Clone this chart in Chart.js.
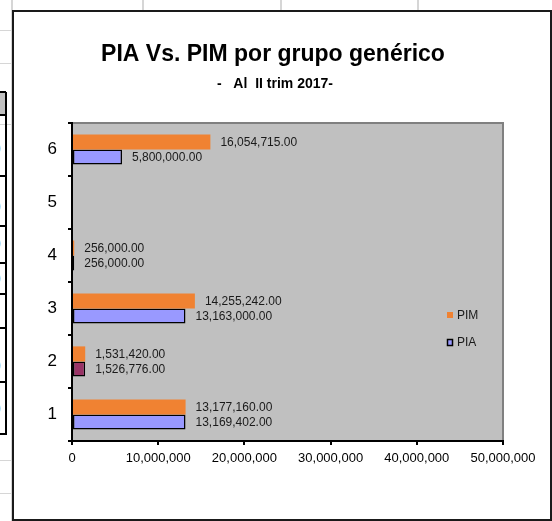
<!DOCTYPE html>
<html>
<head>
<meta charset="utf-8">
<script src="https://cdn.jsdelivr.net/npm/chart.js@4"></script>
<style>
  html, body { margin: 0; padding: 0; background: #fff; }
  body { width: 552px; height: 521px; position: relative; overflow: hidden; font-family: "Liberation Sans", Arial, sans-serif; }
  .gv { position: absolute; top: 0; width: 2px; height: 521px; background: #d6d6d6; }
  .gh { position: absolute; left: 0; height: 1px; width: 552px; background: #d6d6d6; }
  .bh { position: absolute; left: 0; width: 6px; height: 2px; background: #000; }
  .zero { position: absolute; left: -6px; font-size: 12px; color: #777; }
  #box { position: absolute; left: 12px; top: 10px; width: 536px; height: 507px; border: 2px solid #1a1a1a; background: #fff; }
  #c { position: absolute; left: 0; top: 0; }
</style>
</head>
<body>
<div class="gv" style="left:11px"></div>
<div class="gv" style="left:142px"></div>
<div class="gv" style="left:280px"></div>
<div class="gv" style="left:417px"></div>
<div class="gh" style="top:30px"></div>
<div class="gh" style="top:63px"></div>
<div class="gh" style="top:124px"></div>
<div class="gh" style="top:460px"></div>
<div class="gh" style="top:493px"></div>
<div style="position:absolute;left:0;top:92px;width:5px;height:22px;background:#c0c0c0"></div>
<div style="position:absolute;left:5px;top:92px;width:2px;height:343px;background:#000"></div>
<div class="bh" style="top:91px"></div>
<div class="bh" style="top:114px"></div>
<div class="bh" style="top:175px"></div>
<div class="bh" style="top:225px"></div>
<div class="bh" style="top:262px"></div>
<div class="bh" style="top:293px"></div>
<div class="bh" style="top:327px"></div>
<div class="bh" style="top:381px"></div>
<div class="bh" style="top:433px"></div>
<span class="zero" style="top:142px">0</span>
<span class="zero" style="top:200px">0</span>
<span class="zero" style="top:237px">0</span>
<span class="zero" style="top:272px">0</span>
<span class="zero" style="top:359px">0</span>
<span class="zero" style="top:402px">0</span>
<div id="box"></div>
<canvas id="c" width="552" height="521"></canvas>
<script>
const categories = ['1', '2', '3', '4', '5', '6'];
const pimValues = [13177160, 1531420, 14255242, 256000, null, 16054715];
const piaValues = [13169402, 1526776, 13163000, 256000, null, 5800000];
const xTicks = [0, 10000000, 20000000, 30000000, 40000000, 50000000];
const seriesNames = ['PIM', 'PIA'];

const FONT = '"Liberation Sans", Arial, sans-serif';
const ORANGE = '#F08232';
const LAVENDER = '#9999FF';

// gray plot background + top/right border
const plotBg = {
  id: 'plotBg',
  beforeDraw(chart) {
    const { ctx, chartArea: a } = chart;
    ctx.save();
    ctx.fillStyle = '#C0C0C0';
    ctx.fillRect(a.left, a.top, a.right - a.left, a.bottom - a.top);
    ctx.strokeStyle = '#808080';
    ctx.lineWidth = 2;
    ctx.beginPath();
    ctx.moveTo(a.left, a.top);
    ctx.lineTo(a.right, a.top);
    ctx.lineTo(a.right, a.bottom);
    ctx.stroke();
    ctx.restore();
  }
};

// value labels right of each bar
const valueLabels = {
  id: 'valueLabels',
  afterDatasetsDraw(chart) {
    const { ctx } = chart;
    ctx.save();
    ctx.font = '12px ' + FONT;
    ctx.fillStyle = '#1a1a1a';
    ctx.textBaseline = 'middle';
    ctx.textAlign = 'left';
    chart.data.datasets.forEach((ds, i) => {
      chart.getDatasetMeta(i).data.forEach((el, j) => {
        const v = ds.data[j];
        if (v == null) return;
        const txt = v.toLocaleString('en-US', { minimumFractionDigits: 2, maximumFractionDigits: 2 });
        ctx.fillText(txt, el.x + 10, el.y + 1);
      });
    });
    ctx.restore();
  }
};

// title, subtitle and legend
const headerLegend = {
  id: 'headerLegend',
  afterDraw(chart) {
    const { ctx } = chart;
    ctx.save();
    ctx.fillStyle = '#000';
    ctx.textAlign = 'center';
    ctx.textBaseline = 'middle';
    ctx.font = 'bold 23px ' + FONT;
    ctx.fillText('PIA Vs. PIM por grupo genérico', 273, 55);
    ctx.font = 'bold 14px ' + FONT;
    ctx.fillText('-   Al  II trim 2017-', 275, 84);

    ctx.textAlign = 'left';
    ctx.font = '12px ' + FONT;
    // PIM
    ctx.fillStyle = ORANGE;
    ctx.fillRect(447, 312, 6, 6);
    ctx.fillStyle = '#1a1a1a';
    ctx.fillText(seriesNames[0], 457, 316);
    // PIA
    ctx.fillStyle = LAVENDER;
    ctx.fillRect(447.5, 339.5, 5, 6);
    ctx.strokeStyle = '#000';
    ctx.lineWidth = 1.5;
    ctx.strokeRect(447.5, 339.5, 5, 6);
    ctx.fillStyle = '#1a1a1a';
    ctx.fillText(seriesNames[1], 457, 343);
    ctx.restore();
  }
};

new Chart(document.getElementById('c'), {
  type: 'bar',
  data: {
    labels: categories,
    datasets: [
      {
        label: seriesNames[0],
        data: pimValues,
        backgroundColor: ORANGE,
        borderWidth: 0,
        categoryPercentage: 0.57,
        barPercentage: 1
      },
      {
        label: seriesNames[1],
        data: piaValues,
        backgroundColor: [LAVENDER, '#993366', LAVENDER, LAVENDER, LAVENDER, LAVENDER],
        borderColor: '#000',
        borderWidth: 1.5,
        borderSkipped: false,
        categoryPercentage: 0.57,
        barPercentage: 1
      }
    ]
  },
  options: {
    indexAxis: 'y',
    responsive: false,
    animation: false,
    layout: { padding: { left: 0, top: 123, right: 49, bottom: 0 } },
    plugins: {
      legend: { display: false },
      title: { display: false },
      tooltip: { enabled: false }
    },
    scales: {
      y: {
        reverse: true,
        afterFit(s) { s.width = 72; },
        grid: { drawOnChartArea: false, drawTicks: true, tickLength: 4, color: '#000', lineWidth: 2, offset: true },
        border: { display: true, color: '#000', width: 2 },
        ticks: { color: '#000', font: { family: FONT, size: 17 }, padding: 11 }
      },
      x: {
        min: xTicks[0],
        max: xTicks[xTicks.length - 1],
        afterFit(s) { s.height = 80; },
        afterBuildTicks(s) { s.ticks = xTicks.map(v => ({ value: v })); },
        grid: { drawOnChartArea: false, drawTicks: true, tickLength: 4, color: '#000', lineWidth: 2 },
        border: { display: true, color: '#000', width: 2 },
        ticks: {
          color: '#000',
          font: { family: FONT, size: 13 },
          padding: 6,
          maxRotation: 0,
          autoSkip: false,
          callback: v => v.toLocaleString('en-US')
        }
      }
    }
  },
  plugins: [plotBg, valueLabels, headerLegend]
});
</script>
</body>
</html>
